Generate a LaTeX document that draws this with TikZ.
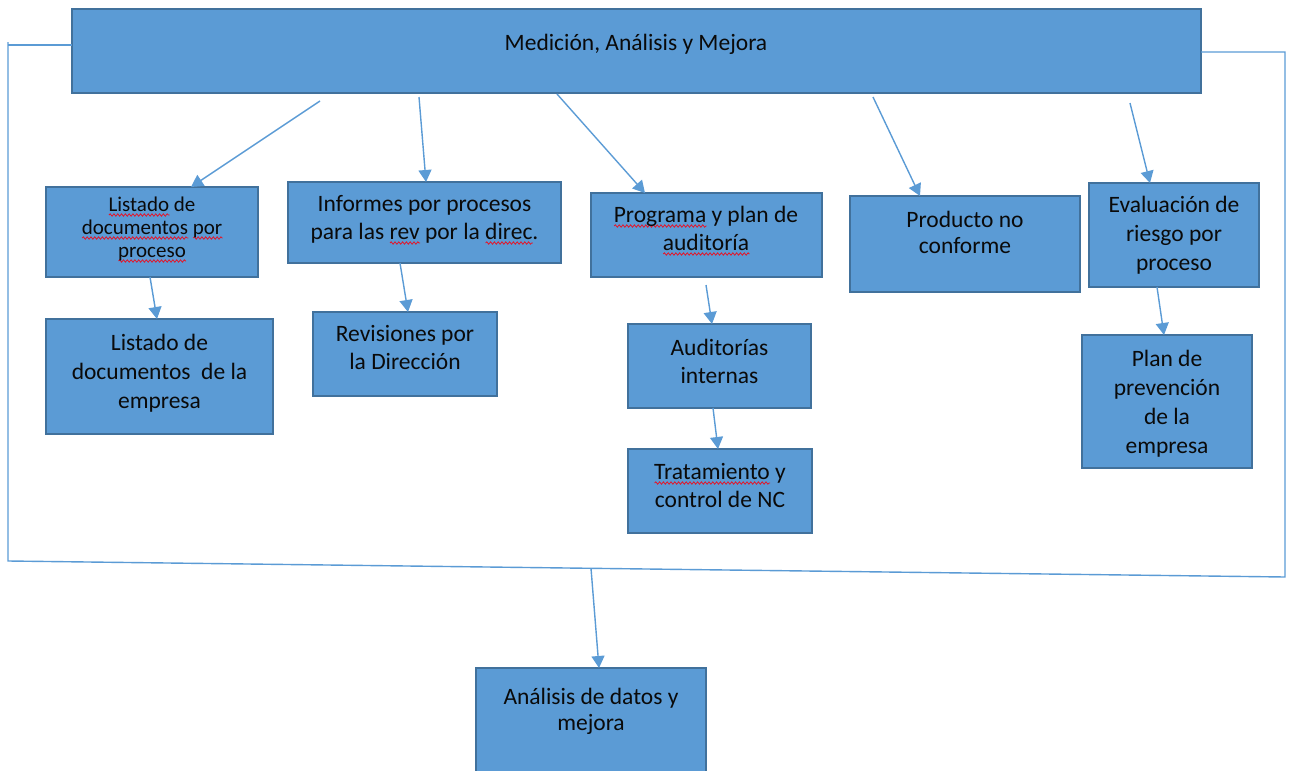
\documentclass[tikz,border=0pt]{standalone}
\usepackage{fontspec}
\setmainfont{Carlito}
\usetikzlibrary{arrows.meta,decorations.pathmorphing}

\definecolor{boxfill}{HTML}{5B9BD5}
\definecolor{boxedge}{HTML}{41719C}
\definecolor{linkc}{HTML}{5B9BD5}
\definecolor{inkc}{HTML}{0A0A0A}
\definecolor{wavec}{HTML}{E81123}

% red wavy underline for flagged words
\newsavebox\spellbox
\newlength\spellwd
\newcommand\spell[1]{%
  \sbox\spellbox{#1}\setlength\spellwd{\wd\spellbox}%
  \rlap{\tikz[baseline=0pt]\draw[wavec, line width=0.75pt, decorate,
      decoration={snake, amplitude=1.2pt, segment length=3.8pt}]
      (0pt,-4pt) -- (\spellwd,-4pt);}%
  \usebox\spellbox}
% fixed-height strut on the first line so the north anchor sits 22pt above the first baseline
\newcommand\fst{\rule{0pt}{22pt}}

\tikzset{
  blk/.style={draw=boxedge, fill=boxfill, line width=1.3pt, inner sep=0pt, outer sep=0pt, anchor=north west},
  lbl/.style={inner sep=0pt, outer sep=0pt, align=center, text=inkc, anchor=north,
              font=\fontsize{23.5}{28}\selectfont},
  lblsmall/.style={lbl, font=\fontsize{21}{23}\selectfont},
  link/.style={draw=linkc, line width=1.4pt, -{Triangle[width=13pt,length=12pt]}},
  rim/.style={draw=linkc, line width=1.4pt},
}

\begin{document}
\begin{tikzpicture}[x=1pt,y=-1pt]
\useasboundingbox (0,0) rectangle (1294,771);

% ---- boxes ----
\node[blk, minimum width=1129pt, minimum height=84pt] (top)  at (72,9)    {};
\node[blk, minimum width=212pt,  minimum height=90pt] (lp)   at (46,187)  {};
\node[blk, minimum width=273pt,  minimum height=81pt] (inf)  at (288,182) {};
\node[blk, minimum width=231pt,  minimum height=84pt] (prog) at (591,193) {};
\node[blk, minimum width=230pt,  minimum height=96pt] (prod) at (850,196) {};
\node[blk, minimum width=170pt,  minimum height=104pt](eval) at (1089,183){};
\node[blk, minimum width=227pt,  minimum height=115pt](lde)  at (46,319)  {};
\node[blk, minimum width=184pt,  minimum height=84pt] (rev)  at (313,312) {};
\node[blk, minimum width=183pt,  minimum height=84pt] (aud)  at (628,324) {};
\node[blk, minimum width=184pt,  minimum height=84pt] (trat) at (628,449) {};
\node[blk, minimum width=170pt,  minimum height=133pt](plan) at (1082,335){};
\node[blk, minimum width=230pt,  minimum height=120pt](ana)  at (476,668) {};

% ---- labels (placed 22pt above the first baseline) ----
\node[lbl] (tTop) at (636,28) {\fst Medición, Análisis y Mejora};
\node[lblsmall] (tLp) at (152,189) {\fst\spell{Listado} de\\\spell{documentos} \spell{por}\\\spell{proceso}};
\node[lbl] (tInf) at (424.5,189) {\fst Informes por procesos\\para las \spell{rev} por la \spell{direc}.};
\node[lbl] (tProg) at (706,200) {\fst\spell{Programa} y plan de\\\spell{auditoría}};
\node[lbl, font=\fontsize{23.5}{26}\selectfont] (tProd) at (965,205) {\fst Producto no\\conforme};
\node[lbl, font=\fontsize{23.5}{29}\selectfont] (tEval) at (1174,190) {\fst Evaluación de\\riesgo por\\proceso};
\node[lbl, font=\fontsize{23.5}{29}\selectfont] (tLde) at (159.5,328) {\fst Listado de\\documentos\ \ de la\\empresa};
\node[lbl] (tRev) at (405,319) {\fst Revisiones por\\la Dirección};
\node[lbl] (tAud) at (719.5,333) {\fst Auditorías\\internas};
\node[lbl] (tTrat) at (720,457) {\fst\spell{Tratamiento} y\\control de NC};
\node[lbl, font=\fontsize{23.5}{29}\selectfont] (tPlan) at (1167,344) {\fst Plan de\\prevención\\de la\\empresa};
\node[lbl, font=\fontsize{23.5}{26}\selectfont] (tAna) at (591,682) {\fst Análisis de datos y\\mejora};

% ---- connector start points below the top bar ----
\coordinate (s1) at (320,101);
\coordinate (s2) at (419,97);
\coordinate (s3) at (557,94);
\coordinate (s4) at (873,97);
\coordinate (s5) at (1130,103);
\coordinate (s8) at (706,285);

% ---- connector tips on the box tops ----
\coordinate (e1)  at ([xshift=145pt]lp.north west);
\coordinate (e2)  at ([xshift=138pt]inf.north west);
\coordinate (e3)  at ([xshift=54pt]prog.north west);
\coordinate (e4)  at ([xshift=70pt]prod.north west);
\coordinate (e5)  at ([xshift=61pt]eval.north west);
\coordinate (e6)  at ([xshift=111pt]lde.north west);
\coordinate (e7)  at ([xshift=95pt]rev.north west);
\coordinate (e8)  at ([xshift=84pt]aud.north west);
\coordinate (e9)  at ([xshift=90pt]trat.north west);
\coordinate (e10) at ([xshift=82pt]plan.north west);
\coordinate (e11) at ([xshift=123pt]ana.north west);

\draw[link] (s1) -- (e1);
\draw[link] (s2) -- (e2);
\draw[link] (s3) -- (e3);
\draw[link] (s4) -- (e4);
\draw[link] (s5) -- (e5);
\draw[link] ([xshift=104pt]lp.south west) -- (e6);
\draw[link] ([xshift=112pt]inf.south west) -- (e7);
\draw[link] (s8) -- (e8);
\draw[link] ([xshift=85pt]aud.south west) -- (e9);
\draw[link] ([xshift=68pt]eval.south west) -- (e10);

% ---- surrounding frame collecting everything ----
\coordinate (lh) at (8,45);
\coordinate (lt) at (8,42);
\coordinate (lb) at (8,561);
\coordinate (rb) at (1285,577);
\coordinate (rt) at (1285,52);
\coordinate (jn) at (591,568.3);
\draw[rim] ([yshift=6pt]top.west) -- (lh);
\draw[rim] (lt) -- (lb) -- (rb) -- (rt) -- (top.east |- rt);
\draw[link] (jn) -- (e11);
\end{tikzpicture}
\end{document}
